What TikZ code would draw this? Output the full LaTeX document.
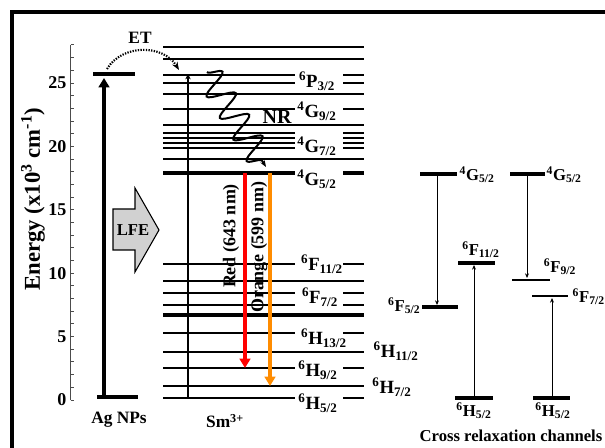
\documentclass[tikz,border=0pt]{standalone}
\usepackage{fontspec}
\setmainfont{Liberation Serif}
\usetikzlibrary{arrows.meta,decorations.pathmorphing}

\definecolor{orng}{RGB}{255,140,0}
\newcommand{\trm}[3]{\textsuperscript{#1}#2\textsubscript{#3}}
\newcommand{\fs}[1]{\fontsize{#1}{#1}\selectfont\bfseries}

\tikzset{every path/.style={line width=1 pt}}

\begin{document}
\begin{tikzpicture}[x=0.75pt,y=-0.75pt,
  lvl/.style={line width=1.8pt},
  fat/.style={line width=2.6pt},
  lab/.style={inner sep=0pt,font=\fs{14}},
  crlab/.style={inner sep=0pt,font=\fs{12.5}},
  tip/.style={-{Triangle[width=8pt,length=7pt]}},
  small tip/.style={-{Stealth[length=3.5pt,width=3pt]}}]
\useasboundingbox (0,0) rectangle (605,448);

% frame
\fill (10,10) rectangle (605,14);
\fill (10,10) rectangle (14,448);

% energy axis
\draw[line width=0.7pt, black!70] (70.5,400) -- (70.5,45);
\foreach \e in {0,...,28}
  \draw[line width=0.7pt, black!70] (70.5,{400-12.68*\e}) -- ++(3,0);
\foreach \e in {0,5,...,25}
  \node[anchor=east, inner sep=0pt, font=\fs{13.5}] (tick\e) at (67,{400-12.68*\e}) {\e};
\node[rotate=90, font=\fs{17}] (elabel) at (33,199) {Energy (x10\textsuperscript{3} cm\textsuperscript{-1})};

% Ag NPs
\draw[fat] (97,397) -- (138,397);
\draw[fat] (93,74) -- (135,74);
\draw[line width=2.4pt, tip] (104,395) -- (104,78);
\node[font=\fs{13}] (ag) at (119,420) {Ag NPs};

% ET
\draw[densely dotted, line width=1.6pt, -{Stealth[length=6pt]}] (107,69) .. controls (122,44) and (163,44) .. (179,70);
\node[font=\fs{13}] (et) at (140,38) {ET};

% LFE
\draw[fill=black!18, line width=0.8pt] (113,209) -- (135,209) -- (135,188) -- (159,230) -- (135,272) -- (135,250) -- (113,250) -- cycle;
\node[font=\fs{12.5}] (lfe) at (133,230) {LFE};

% Sm levels
\foreach \y in {47,59,125,386} \draw[lvl] (163,\y) -- (364,\y);
\draw[line width=3.5pt] (163,315) -- (364,315);
\foreach \y in {94,159,281,352} {
  \draw[lvl] (163,\y) -- (295,\y);
  \draw[line width=0.9pt] (295,\y) -- (343,\y);
  \draw[lvl] (343,\y) -- (364,\y);
}
\foreach \y in {75,83,109,133,138,143,148,264,293,305,333,368,398} {
  \draw[lvl] (163,\y) -- (295,\y);
  \draw[lvl] (343,\y) -- (364,\y);
}
\draw[fat] (163,173) -- (295,173) (343,173) -- (364,173);
\draw[line width=1.4pt, -{Stealth[length=4pt,width=4pt]}] (188,398) -- (188,74);
\node[font=\fs{13}] (sm) at (225,421) {Sm\textsuperscript{3+}};

% non radiative
\draw[line width=1.5pt, -{Stealth[length=5pt]}, decorate,
  decoration={snake, segment length=19pt, amplitude=10pt, post length=5pt}] (207,72) -- (266,167);
\node[font=\fs{15}] (nr) at (277,117) {NR};

% emission
\draw[line width=2.4pt, red, tip] (245,173) -- (245,368);
\draw[line width=2.4pt, orng, tip] (270,173) -- (270,386);
\node[rotate=90, font=\fs{13.5}] (redlab) at (231,236) {Red (643 nm)};
\node[rotate=90, font=\fs{13.5}] (orlab) at (259,247) {Orange (599 nm)};

% level names
\node[lab] (P32) at (317,81) {\trm{6}{P}{3/2}};
\node[lab] (G92) at (317,111) {\trm{4}{G}{9/2}};
\node[lab] (G72) at (317,146) {\trm{4}{G}{7/2}};
\node[lab] (G52) at (317,179) {\trm{4}{G}{5/2}};
\node[lab] (F112) at (322,264) {\trm{6}{F}{11/2}};
\node[lab] (F72) at (320,297) {\trm{6}{F}{7/2}};
\node[lab] (H132) at (324,338) {\trm{6}{H}{13/2}};
\node[lab] (H112) at (396,351) {\trm{6}{H}{11/2}};
\node[lab] (H92) at (318,370) {\trm{6}{H}{9/2}};
\node[lab] (H72) at (392,387) {\trm{6}{H}{7/2}};
\node[lab] (H52) at (318,403) {\trm{6}{H}{5/2}};

% cross relaxation
\draw[fat] (420,174) -- (457,174);
\draw[fat] (510,174) -- (545,174);
\draw[fat] (458,263) -- (495,263);
\draw[fat] (422,307) -- (458,307);
\draw[line width=1.2pt] (512,280) -- (550,280);
\draw[line width=1.2pt] (532,296) -- (568,296);
\draw[fat] (455,398) -- (493,398);
\draw[fat] (533,398) -- (570,398);
\draw[line width=0.6pt, small tip] (437,176) -- (437,305);
\draw[line width=0.6pt, small tip] (474,396) -- (474,265);
\draw[line width=0.6pt, small tip] (527,176) -- (527,278);
\draw[line width=0.6pt, small tip] (552,396) -- (552,298);
\node[crlab, anchor=west] (cG1) at (459,175) {\trm{4}{G}{5/2}};
\node[crlab, anchor=west] (cG2) at (546,175) {\trm{4}{G}{5/2}};
\node[crlab] (cF112) at (481,250) {\trm{6}{F}{11/2}};
\node[crlab, anchor=east] (cF52) at (421,306) {\trm{6}{F}{5/2}};
\node[crlab] (cF92) at (560,267) {\trm{6}{F}{9/2}};
\node[crlab, anchor=west] (cF72) at (572,297) {\trm{6}{F}{7/2}};
\node[crlab] (cH1) at (474,411) {\trm{6}{H}{5/2}};
\node[crlab] (cH2) at (553,411) {\trm{6}{H}{5/2}};
\node[font=\fs{12.5}, inner sep=0pt] (crc) at (511,436) {Cross relaxation channels};
\end{tikzpicture}
\end{document}
